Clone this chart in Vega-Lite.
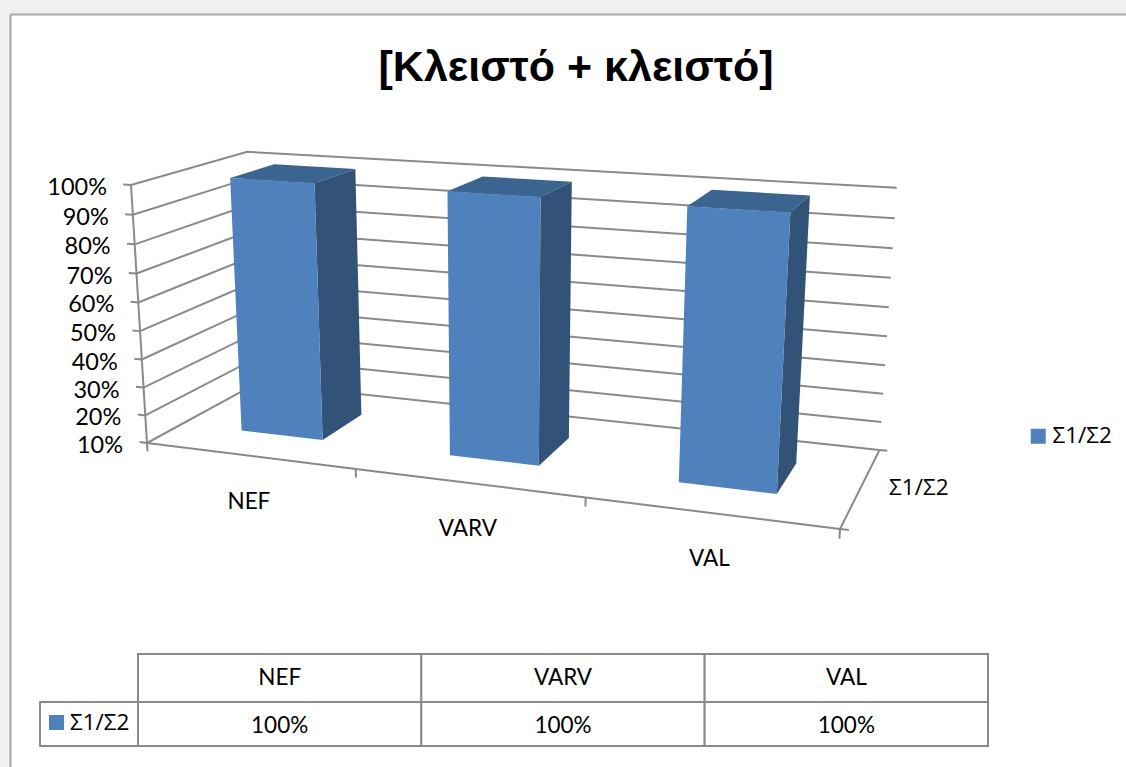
{
"$schema":"https://vega.github.io/schema/vega-lite/v6.json",
"width":1116,"height":753,
"padding":{"left":10,"top":14,"right":0,"bottom":0},
"autosize":{"type":"none"},
"background":"#f0f0f0",
"view":{"fill":"white","stroke":null},
"title":{"text":"[Κλειστό +  κλειστό]","font":"Liberation Sans","fontSize":43,"fontWeight":"bold","color":"#000000","anchor":"middle","dx":8,"offset":-119,"baseline":"bottom"},
"datasets":{
"bars":[
{"category":"NEF","series":"Σ1/Σ2","value":1},
{"category":"VARV","series":"Σ1/Σ2","value":1},
{"category":"VAL","series":"Σ1/Σ2","value":1}],
"valueTicks":[{"tick":0.1},{"tick":0.2},{"tick":0.3},{"tick":0.4},{"tick":0.5},{"tick":0.6},{"tick":0.7},{"tick":0.8},{"tick":0.9},{"tick":1}],
"categoryTicks":[{"boundary":0},{"boundary":1},{"boundary":2},{"boundary":3}],
"seriesTicks":[{"depth":0},{"depth":1}]
},
"encoding":{
"x":{"field":"px","type":"quantitative","title":null,"scale":{"domain":[10,1126],"nice":false,"zero":false},"axis":{"orient":"top","labels":false,"ticks":false,"grid":false,"title":null,"domainColor":"#a6a6a6","domainWidth":2}},
"y":{"field":"py","type":"quantitative","title":null,"scale":{"domain":[767,14],"nice":false,"zero":false},"axis":{"orient":"left","labels":false,"ticks":false,"grid":false,"title":null,"domainColor":"#a6a6a6","domainWidth":2}}
},
"layer":[
{"data":{"name":"valueTicks"},
"transform":[
{"calculate":"[0,1,2]","as":"corner"},{"flatten":["corner"]},
{"calculate":"[0,0,1][datum.corner]","as":"a"},
{"calculate":"[0,1,1][datum.corner]","as":"d"},
{"calculate":"(datum.tick-0.1)/0.9","as":"h"},
{"calculate":"(147+577.08*datum.a-21.63*datum.h+141.35*datum.d)/(1-0.138*datum.a-0.043*datum.h+0.122*datum.d)","as":"px"},
{"calculate":"(443+13*datum.a-265.95*datum.h-13.27*datum.d)/(1-0.138*datum.a-0.043*datum.h+0.122*datum.d)","as":"py"}],
"mark":{"type":"line","stroke":"#8a8a8a","strokeWidth":2},
"encoding":{"detail":{"field":"tick"},"order":{"field":"corner"}}},
{"data":{"name":"valueTicks"},
"transform":[
{"calculate":"[0,1]","as":"corner"},{"flatten":["corner"]},
{"calculate":"[-0.0125,0][datum.corner]","as":"a"},
{"calculate":"0","as":"d"},
{"calculate":"(datum.tick-0.1)/0.9","as":"h"},
{"calculate":"(147+577.08*datum.a-21.63*datum.h+141.35*datum.d)/(1-0.138*datum.a-0.043*datum.h+0.122*datum.d)","as":"px"},
{"calculate":"(443+13*datum.a-265.95*datum.h-13.27*datum.d)/(1-0.138*datum.a-0.043*datum.h+0.122*datum.d)","as":"py"}],
"mark":{"type":"line","stroke":"#8a8a8a","strokeWidth":2},
"encoding":{"detail":{"field":"tick"},"order":{"field":"corner"}}},
{"data":{"name":"valueTicks"},
"transform":[
{"calculate":"(datum.tick-0.1)/0.9","as":"h"},
{"calculate":"(147-21.63*datum.h)/(1-0.043*datum.h)","as":"px"},
{"calculate":"(443-265.95*datum.h)/(1-0.043*datum.h)","as":"py"}],
"mark":{"type":"line","stroke":"#8a8a8a","strokeWidth":2},
"encoding":{"order":{"field":"tick"}}},
{"data":{"name":"valueTicks"},
"transform":[
{"calculate":"(datum.tick-0.1)/0.9","as":"h"},
{"calculate":"(147-21.63*datum.h)/(1-0.043*datum.h)","as":"px"},
{"calculate":"(443-265.95*datum.h)/(1-0.043*datum.h)","as":"py"}],
"mark":{"type":"text","align":"right","baseline":"middle","dx":-24,"dy":3,"font":"Lato","fontSize":23.5,"color":"#000000"},
"encoding":{"text":{"field":"tick","type":"quantitative","format":".0%"}}},
{"data":{"name":"categoryTicks"},
"transform":[
{"calculate":"[0,1]","as":"corner"},{"flatten":["corner"]},
{"calculate":"datum.boundary/3","as":"a"},
{"calculate":"[0,-0.034][datum.corner]","as":"h"},
{"calculate":"(147+577.08*datum.a-21.63*datum.h)/(1-0.138*datum.a-0.043*datum.h)","as":"px"},
{"calculate":"(443+13*datum.a-265.95*datum.h)/(1-0.138*datum.a-0.043*datum.h)","as":"py"}],
"mark":{"type":"line","stroke":"#8a8a8a","strokeWidth":2},
"encoding":{"detail":{"field":"boundary"},"order":{"field":"corner"}}},
{"data":{"name":"categoryTicks"},
"transform":[
{"calculate":"datum.boundary/3","as":"a"},
{"calculate":"(147+577.08*datum.a)/(1-0.138*datum.a)","as":"px"},
{"calculate":"(443+13*datum.a)/(1-0.138*datum.a)","as":"py"}],
"mark":{"type":"line","stroke":"#8a8a8a","strokeWidth":2},
"encoding":{"order":{"field":"boundary"}}},
{"data":{"name":"seriesTicks"},
"transform":[
{"calculate":"(147+577.08+141.35*datum.depth)/(1-0.138+0.122*datum.depth)","as":"px"},
{"calculate":"(443+13-13.27*datum.depth)/(1-0.138+0.122*datum.depth)","as":"py"}],
"mark":{"type":"line","stroke":"#8a8a8a","strokeWidth":2},
"encoding":{"order":{"field":"depth"}}},
{"data":{"name":"seriesTicks"},
"transform":[
{"calculate":"[0,1]","as":"corner"},{"flatten":["corner"]},
{"calculate":"[1,1.011][datum.corner]","as":"a"},
{"calculate":"(147+577.08*datum.a+141.35*datum.depth)/(1-0.138*datum.a+0.122*datum.depth)","as":"px"},
{"calculate":"(443+13*datum.a-13.27*datum.depth)/(1-0.138*datum.a+0.122*datum.depth)","as":"py"}],
"mark":{"type":"line","stroke":"#8a8a8a","strokeWidth":2},
"encoding":{"detail":{"field":"depth"},"order":{"field":"corner"}}},
{"data":{"name":"bars"},
"transform":[
{"window":[{"op":"row_number","as":"rank"}]},
{"calculate":"datum.rank-1","as":"slot"},
{"calculate":"['top','side','front']","as":"face"},{"flatten":["face"]},
{"calculate":"[0,1,2,3,4]","as":"corner"},{"flatten":["corner"]},
{"calculate":"[0,1,1,0,0][datum.corner]","as":"u"},
{"calculate":"[0,0,1,1,0][datum.corner]","as":"v"},
{"calculate":"(datum.slot+0.3+0.4*(datum.face=='side'?1:datum.u))/3","as":"a"},
{"calculate":"0.3+0.4*(datum.face=='front'?0:datum.face=='side'?datum.u:datum.v)","as":"d"},
{"calculate":"(datum.face=='top'?1:datum.v)*(datum.value-0.1)/0.9","as":"h"},
{"calculate":"(147+577.08*datum.a-21.63*datum.h+141.35*datum.d)/(1-0.138*datum.a-0.043*datum.h+0.122*datum.d)","as":"px"},
{"calculate":"(443+13*datum.a-265.95*datum.h-13.27*datum.d)/(1-0.138*datum.a-0.043*datum.h+0.122*datum.d)","as":"py"},
{"calculate":"datum.face=='front'?datum.series:datum.face","as":"shade"}],
"mark":{"type":"line","strokeWidth":0,"interpolate":"linear"},
"encoding":{
"fill":{"field":"shade","type":"nominal","scale":{"domain":["Σ1/Σ2","side","top"],"range":["#4f81bd","#325277","#3c6491"]},
"legend":{"values":["Σ1/Σ2"],"title":null,"orient":"none","legendX":1017,"legendY":411,"symbolType":"square","symbolSize":225,"symbolStrokeWidth":0,"labelFont":"Open Sans","labelFontSize":22.5,"labelColor":"#000000","labelOffset":3}},
"detail":{"field":"category"},
"order":{"field":"corner"}}},
{"data":{"name":"bars"},
"transform":[
{"window":[{"op":"row_number","as":"rank"}]},
{"calculate":"(datum.rank-0.5)/3","as":"a"},
{"calculate":"(147+577.08*datum.a)/(1-0.138*datum.a)","as":"px"},
{"calculate":"(443+13*datum.a)/(1-0.138*datum.a)","as":"py"}],
"mark":{"type":"text","align":"center","baseline":"middle","dy":46.5,"font":"Lato","fontSize":22.5,"color":"#000000"},
"encoding":{"text":{"field":"category"}}},
{"data":{"name":"bars"},
"transform":[
{"window":[{"op":"row_number","as":"rank"}]},
{"filter":"datum.rank==1"},
{"calculate":"(147+577.08+141.35*0.5)/(1-0.138+0.122*0.5)","as":"px"},
{"calculate":"(443+13-13.27*0.5)/(1-0.138+0.122*0.5)","as":"py"}],
"mark":{"type":"text","align":"left","baseline":"middle","dx":28,"dy":1,"font":"Open Sans","fontSize":22.5,"color":"#000000"},
"encoding":{"text":{"field":"series"}}},
{"data":{"name":"bars"},
"transform":[
{"window":[{"op":"row_number","as":"rank"}]},
{"calculate":"['header','value']","as":"row"},{"flatten":["row"]},
{"calculate":"138+283.33*(datum.rank-1)","as":"px"},
{"calculate":"datum.px+283.33","as":"px2"},
{"calculate":"datum.row=='header'?654:702","as":"py"},
{"calculate":"datum.row=='header'?702:746","as":"py2"}],
"mark":{"type":"rect","fill":"white","stroke":"#8a8a8a","strokeWidth":2},
"encoding":{"x2":{"field":"px2"},"y2":{"field":"py2"}}},
{"data":{"name":"bars"},
"transform":[
{"window":[{"op":"row_number","as":"rank"}]},
{"filter":"datum.rank==1"},
{"calculate":"40","as":"px"},{"calculate":"138","as":"px2"},
{"calculate":"702","as":"py"},{"calculate":"746","as":"py2"}],
"mark":{"type":"rect","fill":"white","stroke":"#8a8a8a","strokeWidth":2},
"encoding":{"x2":{"field":"px2"},"y2":{"field":"py2"}}},
{"data":{"name":"bars"},
"transform":[
{"window":[{"op":"row_number","as":"rank"}]},
{"filter":"datum.rank==1"},
{"calculate":"56.5","as":"px"},{"calculate":"722.5","as":"py"}],
"mark":{"type":"point","shape":"square","filled":true,"size":225,"fill":"#4f81bd","opacity":1,"strokeWidth":0}},
{"data":{"name":"bars"},
"transform":[
{"window":[{"op":"row_number","as":"rank"}]},
{"filter":"datum.rank==1"},
{"calculate":"70","as":"px"},{"calculate":"723","as":"py"}],
"mark":{"type":"text","align":"left","baseline":"middle","font":"Open Sans","fontSize":22.5,"color":"#000000"},
"encoding":{"text":{"field":"series"}}},
{"data":{"name":"bars"},
"transform":[
{"window":[{"op":"row_number","as":"rank"}]},
{"calculate":"138+283.33*(datum.rank-0.5)","as":"px"},
{"calculate":"678","as":"py"}],
"mark":{"type":"text","align":"center","baseline":"middle","font":"Lato","fontSize":22.5,"color":"#000000"},
"encoding":{"text":{"field":"category"}}},
{"data":{"name":"bars"},
"transform":[
{"window":[{"op":"row_number","as":"rank"}]},
{"calculate":"138+283.33*(datum.rank-0.5)","as":"px"},
{"calculate":"726","as":"py"}],
"mark":{"type":"text","align":"center","baseline":"middle","font":"Lato","fontSize":22.5,"color":"#000000"},
"encoding":{"text":{"field":"value","type":"quantitative","format":".0%"}}}
]
}
